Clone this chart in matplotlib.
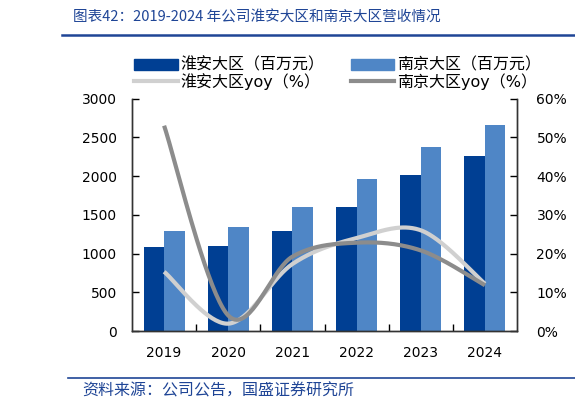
import numpy as np
import matplotlib.pyplot as plt
from matplotlib.patches import Patch
from matplotlib.lines import Line2D

years = ['2019', '2020', '2021', '2022', '2023', '2024']
huaian_rev = [1080, 1100, 1290, 1600, 2009, 2254]
nanjing_rev = [1290, 1342, 1600, 1965, 2374, 2654]
huaian_yoy = [15.3, 1.9, 17.3, 24.0, 26.0, 12.2]
nanjing_yoy = [53.0, 4.0, 19.2, 22.8, 20.8, 11.8]

c_dark = '#003f93'
c_light = '#4f86c6'
c_line1 = '#d0d0d0'
c_line2 = '#8c8c8c'
c_title = '#1f4596'

plt.rcParams['font.family'] = ['DejaVu Sans', 'Noto Sans CJK SC']


# smooth line like Excel's "smoothed line" (Catmull-Rom through the points)
def smooth(xs, ys, n=40):
    p = np.column_stack([xs, ys]).astype(float)
    p = np.vstack([p[0], p, p[-1]])
    out = []
    for i in range(1, len(p) - 2):
        p0, p1, p2, p3 = p[i - 1], p[i], p[i + 1], p[i + 2]
        t = np.linspace(0, 1, n)[:, None]
        seg = 0.5 * ((2 * p1) + (-p0 + p2) * t
                     + (2 * p0 - 5 * p1 + 4 * p2 - p3) * t ** 2
                     + (-p0 + 3 * p1 - 3 * p2 + p3) * t ** 3)
        out.append(seg)
    out = np.vstack(out)
    return out[:, 0], out[:, 1]


fig = plt.figure(figsize=(5.75, 4.09), dpi=100)
ax = fig.add_axes([0.2296, 0.1907, 0.6696, 0.5683])
ax2 = ax.twinx()

x = np.arange(len(years))
w = 0.32
ax.bar(x - w / 2, huaian_rev, w, color=c_dark, zorder=2)
ax.bar(x + w / 2, nanjing_rev, w, color=c_light, zorder=2)

sx, sy = smooth(x, huaian_yoy)
ax2.plot(sx, sy, color=c_line1, lw=3, solid_capstyle='butt')
sx, sy = smooth(x, nanjing_yoy)
ax2.plot(sx, sy, color=c_line2, lw=3, solid_capstyle='butt')

ax.set_xlim(-0.5, 5.5)
ax.set_ylim(0, 3000)
ax.set_yticks(range(0, 3001, 500))
ax2.set_ylim(0, 60)
ax2.set_yticks(range(0, 61, 10))
ax2.set_yticklabels([f'{v}%' for v in range(0, 61, 10)])

ax.set_xticks(x)
ax.set_xticklabels(years)
ax.set_xticks(np.arange(0.5, 5.5, 1), minor=True)
ax.tick_params(axis='x', which='major', length=0, pad=11, labelsize=10)
ax.tick_params(axis='x', which='minor', direction='in', length=5, width=1)
ax.tick_params(axis='y', direction='in', length=5, width=1, pad=11, labelsize=10)
ax2.tick_params(axis='y', direction='in', length=5, width=1, pad=14, labelsize=10)

for a in (ax, ax2):
    a.spines['top'].set_visible(False)
    for s in ('left', 'right', 'bottom'):
        a.spines[s].set_color('#333333')
        a.spines[s].set_linewidth(1)

handles = [
    Patch(color=c_dark), Line2D([], [], color=c_line1, lw=3),
    Patch(color=c_light), Line2D([], [], color=c_line2, lw=3),
]
labels = ['淮安大区（百万元）', '淮安大区yoy（%）', '南京大区（百万元）', '南京大区yoy（%）']
fig.legend(handles, labels, loc='center', bbox_to_anchor=(0.587, 0.82), ncol=2,
           frameon=False, fontsize=11.5, handlelength=2.7, handleheight=0.7,
           handletextpad=0.15, columnspacing=1.7, labelspacing=0.02,
           borderpad=0)

# header / footer
fig.text(73 / 575, 1 - 18 / 409, '图表42：2019-2024 年公司淮安大区和南京大区营收情况',
         color=c_title, fontsize=10.5, style='italic',
         family=['Noto Sans CJK SC', 'DejaVu Sans'], va='center', ha='left')
fig.add_artist(Line2D([62 / 575, 1], [1 - 35 / 409] * 2, color=c_title, lw=1.8))
fig.add_artist(Line2D([68 / 575, 1], [1 - 378 / 409] * 2, color=c_title, lw=1.2))
fig.text(82 / 575, 1 - 391 / 409, '资料来源：公司公告，国盛证券研究所',
         color=c_title, fontsize=11.5, style='italic',
         family=['Noto Sans CJK SC', 'DejaVu Sans'], va='center', ha='left')

fig.savefig('out.png', dpi=100)
